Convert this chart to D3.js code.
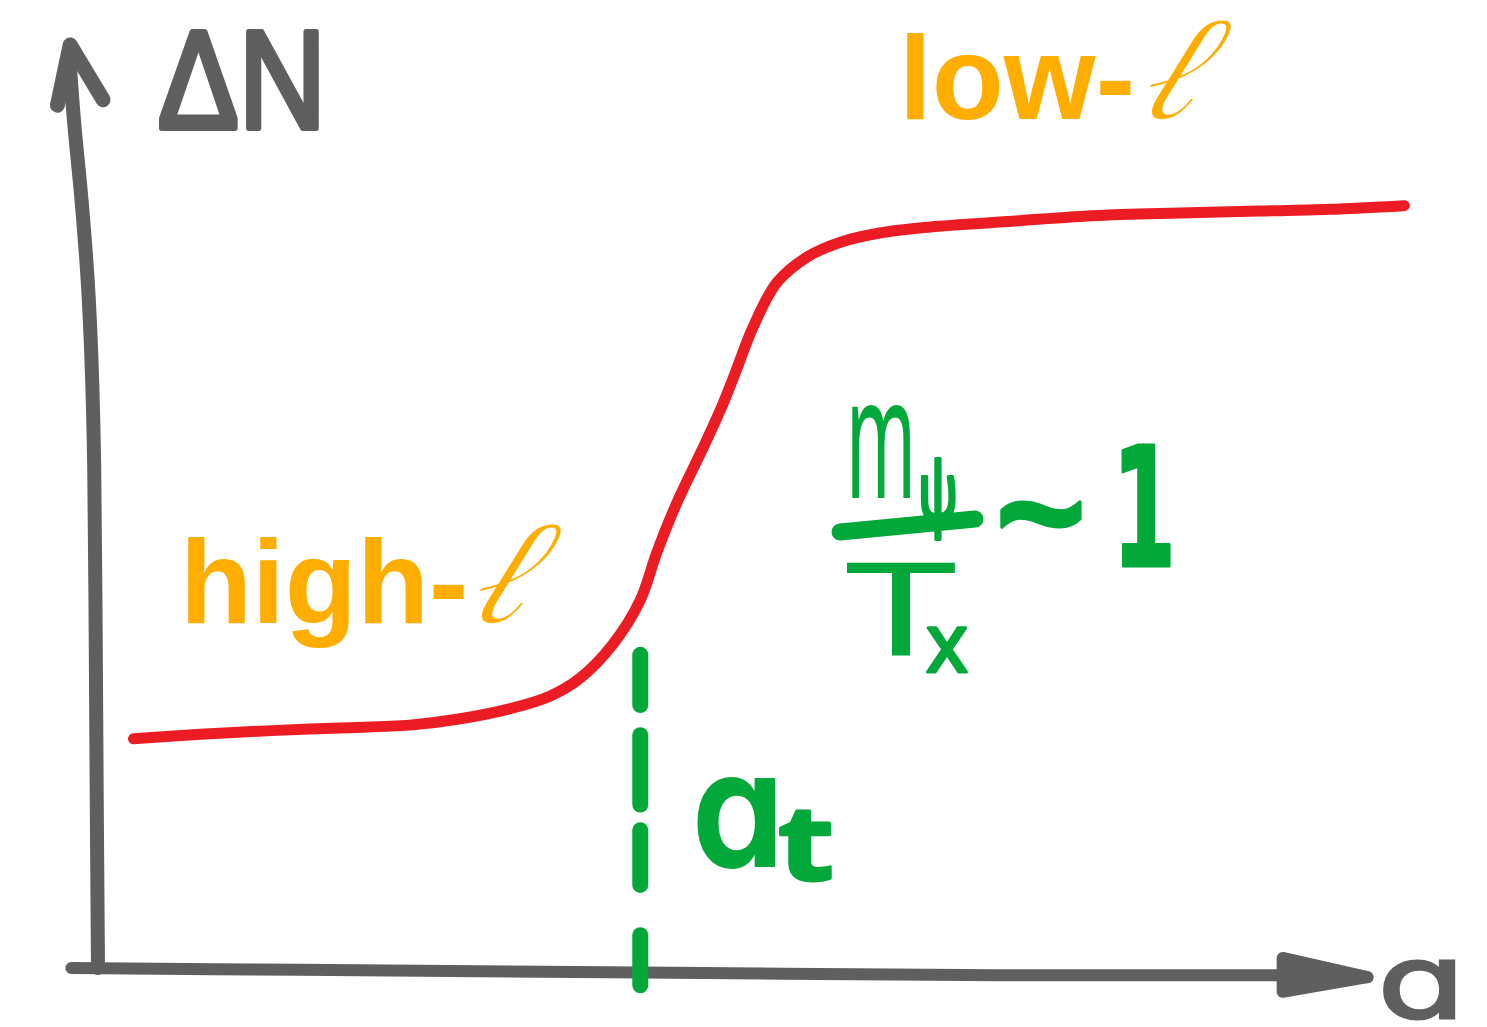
<!DOCTYPE html>
<html>
<head>
<meta charset="utf-8">
<script src="https://cdn.jsdelivr.net/npm/d3@7"></script>
<style>
  html, body { margin: 0; background: #ffffff; }
  svg { display: block; }
  .one-storey { font-feature-settings: "cv11" 1, "ss07" 1; }
</style>
</head>
<body>
<svg id="chart" width="1487" height="1027"></svg>
<script>
// ΔN as a function of the scale factor a: a smooth step from the
// high-ℓ plateau to the low-ℓ plateau around the transition a_t.
const curveA  = [0.28, 0.81, 1.37, 1.91, 2.46, 2.86, 3.28, 3.57, 3.80, 4.06, 4.28, 4.41, 4.57, 4.78,
                 4.93, 5.03, 5.17, 5.36, 5.60, 5.86, 6.17, 6.52, 7.12, 7.85, 8.54, 9.16, 9.72, 10.31];
const curveDN = [2.51, 2.56, 2.60, 2.63, 2.66, 2.73, 2.85, 2.98, 3.17, 3.54, 4.03, 4.55, 5.10, 5.71,
                 6.17, 6.52, 7.02, 7.51, 7.79, 7.95, 8.05, 8.11, 8.17, 8.24, 8.27, 8.29, 8.31, 8.35];

// transition point and the pieces of its dashed marker (ΔN from, to)
const aTransition = 4.28;
const dashDN = [[3.43, 2.88], [2.55, 1.79], [1.51, 0.91], [0.36, -0.19]];

// hand-drawn axes (a, ΔN) with their arrow heads
const yAxisA   = [0.00, -0.01, -0.02, -0.03, -0.05, -0.08, -0.13, -0.19, -0.23];
const yAxisDN  = [0.00,  1.84,  4.03,  5.50,  6.60,  7.50,  8.41,  9.29, 10.05];
const yArrowA  = [-0.32, -0.22, 0.04];
const yArrowDN = [ 9.45, 10.11, 9.51];
const xAxisA   = [-0.21, 1.59, 4.28, 7.12, 9.35, 10.02];
const xAxisDN  = [ 0.00, -0.02, -0.05, -0.08, -0.08, -0.10];
const xArrowA  = [9.35, 10.02, 9.35];
const xArrowDN = [0.11, -0.10, -0.26];

// axis titles and region labels
const axisLabels   = { y: "ΔN", x: "a" };
const regionLabels = ["high-", "low-"];
const ellLabel     = "ℓ";

const svg = d3.select("#chart");

const x = d3.scaleLinear().domain([0, 10]).range([98, 1365]);
const y = d3.scaleLinear().domain([0, 10]).range([968, 55]);

const zip = (as, bs) => as.map((a, i) => [a, bs[i]]);
const line = d3.line().x(d => x(d[0])).y(d => y(d[1]));
const smooth = d3.line().x(d => x(d[0])).y(d => y(d[1])).curve(d3.curveCatmullRom.alpha(0.5));

const GRAY = "#5f5f5f", RED = "#ec1c24", GREEN = "#03a83a", ORANGE = "#ffae00";

// axes
const axes = svg.append("g")
  .attr("fill", "none").attr("stroke", GRAY)
  .attr("stroke-linecap", "round").attr("stroke-linejoin", "round");
axes.append("path").attr("d", smooth(zip(yAxisA, yAxisDN))).attr("stroke-width", 14);
axes.append("path").attr("d", line(zip(yArrowA, yArrowDN))).attr("stroke-width", 15);
axes.append("path").attr("d", smooth(zip(xAxisA, xAxisDN))).attr("stroke-width", 12);
axes.append("path").attr("d", line(zip(xArrowA, xArrowDN)) + "Z")
  .attr("fill", GRAY).attr("stroke-width", 12);

// dashed marker at a_t
svg.append("g").selectAll("line").data(dashDN).join("line")
  .attr("x1", x(aTransition)).attr("x2", x(aTransition))
  .attr("y1", d => y(d[0])).attr("y2", d => y(d[1]))
  .attr("stroke", GREEN).attr("stroke-width", 16).attr("stroke-linecap", "round");

// ΔN(a) curve
svg.append("path")
  .attr("d", smooth(zip(curveA, curveDN)))
  .attr("fill", "none").attr("stroke", RED).attr("stroke-width", 11)
  .attr("stroke-linecap", "round").attr("stroke-linejoin", "round");

// axis titles
svg.append("text").text(axisLabels.y)
  .attr("x", 158).attr("y", 128)
  .attr("textLength", 168).attr("lengthAdjust", "spacingAndGlyphs")
  .attr("font-family", "Liberation Sans").attr("font-size", 140)
  .attr("fill", GRAY).attr("stroke", GRAY).attr("stroke-width", 6).attr("stroke-linejoin", "round");
svg.append("text").text(axisLabels.x).attr("class", "one-storey")
  .attr("x", 1378).attr("y", 1018)
  .attr("textLength", 86).attr("lengthAdjust", "spacingAndGlyphs")
  .attr("font-family", "Inter").attr("font-size", 104)
  .attr("fill", GRAY).attr("stroke", GRAY).attr("stroke-width", 3);

// region labels
const regionPos = [{ x: 180, y: 623, ex: 461 }, { x: 899, y: 119, ex: 1131 }];
regionLabels.forEach((t, i) => {
  const p = regionPos[i];
  svg.append("text").text(t)
    .attr("x", p.x).attr("y", p.y)
    .attr("font-family", "Liberation Sans").attr("font-weight", "bold").attr("font-size", 118)
    .attr("fill", ORANGE);
  svg.append("text").text(ellLabel)
    .attr("transform", `translate(${p.ex},${p.y}) skewX(-24)`)
    .attr("textLength", 62).attr("lengthAdjust", "spacingAndGlyphs")
    .attr("font-family", "DejaVu Serif").attr("font-style", "italic").attr("font-size", 150)
    .attr("fill", ORANGE).attr("stroke", "#ffffff").attr("stroke-width", 2.5);
});

// annotation: a_t
const note = svg.append("g").attr("fill", GREEN).attr("stroke", GREEN)
  .attr("stroke-linejoin", "round").attr("stroke-linecap", "round");
note.append("text").text("a").attr("class", "one-storey")
  .attr("x", 692).attr("y", 866)
  .attr("textLength", 92).attr("lengthAdjust", "spacingAndGlyphs")
  .attr("font-family", "Inter").attr("font-weight", 600).attr("font-size", 160)
  .attr("stroke-width", 2);
note.append("text").text("t")
  .attr("x", 778).attr("y", 880)
  .attr("textLength", 56).attr("lengthAdjust", "spacingAndGlyphs")
  .attr("font-family", "Noto Sans").attr("font-weight", "bold").attr("font-size", 104)
  .attr("stroke-width", 3);

// annotation: m_ψ / T_x ~ 1
note.append("text").text("m")
  .attr("x", 846).attr("y", 498)
  .attr("textLength", 70).attr("lengthAdjust", "spacingAndGlyphs")
  .attr("font-family", "Noto Sans").attr("font-size", 170).attr("stroke-width", 0);
note.append("text").text("ψ")
  .attr("x", 918).attr("y", 520)
  .attr("textLength", 40).attr("lengthAdjust", "spacingAndGlyphs")
  .attr("font-family", "Noto Sans").attr("font-size", 80).attr("stroke-width", 4);
note.append("line")
  .attr("x1", 840).attr("y1", 532).attr("x2", 975).attr("y2", 519)
  .attr("stroke-width", 17);
note.append("text").text("T")
  .attr("x", 845).attr("y", 656)
  .attr("textLength", 112).attr("lengthAdjust", "spacingAndGlyphs")
  .attr("font-family", "Noto Sans").attr("font-size", 130).attr("stroke-width", 0);
note.append("text").text("x")
  .attr("x", 926).attr("y", 672)
  .attr("textLength", 42).attr("lengthAdjust", "spacingAndGlyphs")
  .attr("font-family", "Noto Sans").attr("font-size", 82).attr("stroke-width", 3);
note.append("text").text("~")
  .attr("x", 995).attr("y", 568)
  .attr("textLength", 92).attr("lengthAdjust", "spacingAndGlyphs")
  .attr("font-family", "Noto Sans").attr("font-weight", "bold").attr("font-size", 150).attr("stroke-width", 3);
note.append("text").text("1")
  .attr("x", 1112).attr("y", 566)
  .attr("textLength", 64).attr("lengthAdjust", "spacingAndGlyphs")
  .attr("font-family", "DejaVu Sans").attr("font-weight", "bold").attr("font-size", 165)
  .attr("stroke-width", 3);
</script>
</body>
</html>
